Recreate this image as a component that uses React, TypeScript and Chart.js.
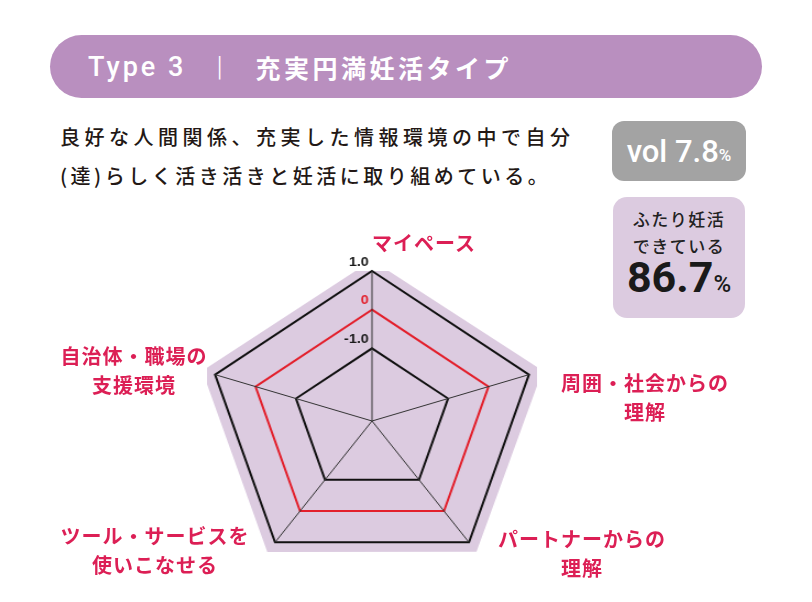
import { Chart, registerables } from "chart.js";
import { useEffect, useRef } from "react";

Chart.register(...registerables);

// axes, clockwise from the top
const categories: string[][] = [
  ["マイペース"],
  ["周囲・社会からの", "理解"],
  ["パートナーからの", "理解"],
  ["ツール・サービスを", "使いこなせる"],
  ["自治体・職場の", "支援環境"],
];
const scores = [1.28, 1.34, 1.3, 1.31, 1.32];
const tickValues = [-1, 0, 1];
const tickLabels = ["-1.0", "0", "1.0"];
const scaleMin = -2.88;
const scaleMax = 1.0;

const FILL = "#dccbe0";
const RED = "#e3202c";
const PINK = "#dc1f55";
const INK = "#231815";
const JP = '"Noto Sans CJK JP", "Noto Sans", sans-serif';

const tickLabelPlugin = {
  id: "tickLabelsLeft",
  afterDraw(chart: any) {
    const s = chart.scales.r;
    const ctx = chart.ctx;
    ctx.save();
    ctx.font = 'bold 13px "Liberation Sans", Arial, sans-serif';
    ctx.textAlign = "right";
    ctx.textBaseline = "middle";
    tickValues.forEach((v, i) => {
      const d = s.getDistanceFromCenterForValue(v);
      ctx.fillStyle = v === 0 ? RED : "#1a1a1a";
      ctx.fillText(tickLabels[i], s.xCenter - 3, s.yCenter - d - 9);
    });
    ctx.restore();
  },
};

function RadarChart() {
  const ref = useRef<HTMLCanvasElement>(null);

  useEffect(() => {
    if (!ref.current) return;
    const chart = new Chart(ref.current, {
      type: "radar",
      data: {
        labels: categories,
        datasets: [
          {
            data: scores,
            backgroundColor: FILL,
            borderWidth: 0,
            pointRadius: 0,
            fill: "start",
          },
        ],
      },
      options: {
        responsive: true,
        maintainAspectRatio: false,
        animation: false,
        layout: { padding: 20 },
        plugins: { legend: { display: false }, tooltip: { enabled: false } },
        scales: {
          r: {
            min: scaleMin,
            max: scaleMax,
            afterBuildTicks: (scale: any) => {
              scale.ticks = tickValues.map((v) => ({ value: v }));
            },
            ticks: { display: false, z: 1 },
            pointLabels: { display: false },
            grid: {
              z: 1,
              color: (c: any) => (c.tick && c.tick.value === 0 ? RED : "#111"),
              lineWidth: 2,
            },
            angleLines: { color: "#333", lineWidth: 1 },
          },
        },
      },
      plugins: [tickLabelPlugin],
    });
    return () => chart.destroy();
  }, []);

  return (
    <div
      style={{
        position: "absolute",
        left: 202,
        top: 251,
        width: 340,
        height: 340,
        transform: "scaleX(1.1)",
        transformOrigin: "50% 50%",
      }}
    >
      <canvas ref={ref} />
    </div>
  );
}

// where each axis caption sits (centre x, first line centre y)
const captionPos = [
  { x: 424, y: 242 },
  { x: 645, y: 382 },
  { x: 582, y: 538 },
  { x: 155, y: 535 },
  { x: 134, y: 355 },
];

export default function App() {
  return (
    <div
      style={{
        position: "absolute",
        left: 0,
        top: 0,
        width: 812,
        height: 602,
        background: "#fff",
        overflow: "hidden",
        fontFamily: JP,
      }}
    >
      {/* title pill */}
      <div
        style={{
          position: "absolute",
          left: 50,
          top: 35,
          width: 712,
          height: 63,
          borderRadius: 32,
          background: "#b98fbf",
          color: "#fff",
          display: "flex",
          alignItems: "center",
          paddingLeft: 38,
          boxSizing: "border-box",
        }}
      >
        <span style={{ fontFamily: "Roboto", fontSize: 27, fontWeight: 500, letterSpacing: 3 }}>
          Type 3
        </span>
        <span style={{ fontFamily: "Roboto", fontSize: 28, fontWeight: 300, margin: "0 33px 0 30px" }}>|</span>
        <span style={{ fontSize: 25, fontWeight: 700, letterSpacing: 3.5 }}>充実円満妊活タイプ</span>
      </div>

      {/* description */}
      <div
        style={{
          position: "absolute",
          left: 60,
          top: 117,
          fontSize: 20,
          lineHeight: "39px",
          fontWeight: 500,
          color: INK,
          whiteSpace: "nowrap",
        }}
      >
        <div style={{ letterSpacing: 4.5 }}>良好な人間関係、充実した情報環境の中で自分</div>
        <div style={{ letterSpacing: 3.5 }}>(達)らしく活き活きと妊活に取り組めている。</div>
      </div>

      {/* share badge */}
      <div
        style={{
          position: "absolute",
          left: 612,
          top: 121,
          width: 134,
          height: 60,
          borderRadius: 12,
          background: "#a3a3a3",
          color: "#fff",
          display: "flex",
          alignItems: "center",
          justifyContent: "center",
          fontFamily: "Roboto",
        }}
      >
        <span style={{ fontSize: 31, fontWeight: 500 }}>vol 7.8</span>
        <span style={{ fontSize: 17, fontWeight: 500, marginTop: 8 }}>%</span>
      </div>

      <div
        style={{
          position: "absolute",
          left: 613,
          top: 197,
          width: 132,
          height: 121,
          borderRadius: 14,
          background: FILL,
          color: "#222",
          textAlign: "center",
          paddingTop: 8,
          boxSizing: "border-box",
        }}
      >
        <div style={{ fontSize: 17, lineHeight: "27px", fontWeight: 500, letterSpacing: 1.5 }}>ふたり妊活</div>
        <div style={{ fontSize: 17, lineHeight: "27px", fontWeight: 500, letterSpacing: 1.5 }}>できている</div>
        <div style={{ fontFamily: "Roboto", lineHeight: "36px", color: "#1a1a1a" }}>
          <span style={{ fontSize: 43, fontWeight: 700 }}>86.7</span>
          <span style={{ fontSize: 24, fontWeight: 500 }}>%</span>
        </div>
      </div>

      <RadarChart />

      {categories.map((lines, i) => (
        <div
          key={i}
          style={{
            position: "absolute",
            left: captionPos[i].x - 120,
            top: captionPos[i].y - 14.5,
            width: 240,
            textAlign: "center",
            fontSize: 20,
            lineHeight: "29px",
            fontWeight: 700,
            letterSpacing: 1,
            color: PINK,
            whiteSpace: "nowrap",
          }}
        >
          {lines.map((l, j) => (
            <div key={j}>{l}</div>
          ))}
        </div>
      ))}
    </div>
  );
}
